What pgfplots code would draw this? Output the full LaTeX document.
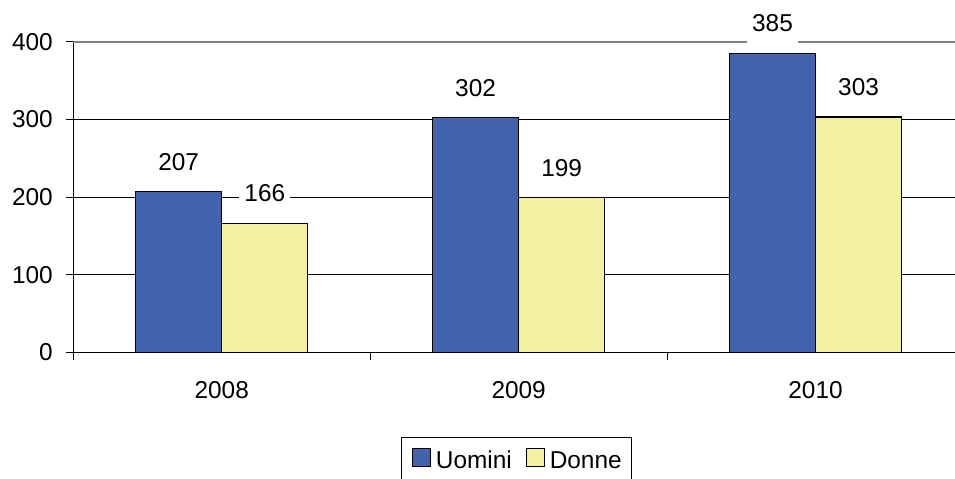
\documentclass[border=0pt]{standalone}
\usepackage{fontspec}
\setmainfont{Liberation Sans}
\usepackage{pgfplots}
\pgfplotsset{compat=1.18}
\definecolor{barblue}{RGB}{66,100,174}
\definecolor{baryellow}{RGB}{243,241,160}
\definecolor{bordergray}{RGB}{128,128,128}
\begin{document}
\begin{tikzpicture}
\begin{axis}[
  name=ax,
  scale only axis,
  width=445.35pt, height=155.4pt,
  xmin=-0.5, xmax=2.5,
  ymin=0, ymax=400,
  ytick={0,100,200,300,400},
  xtick={-0.5,0.5,1.5},
  xticklabels={},
  extra x ticks={0,1,2},
  extra x tick labels={2008,2009,2010},
  extra x tick style={major tick length=0pt, tick label style={yshift=-11pt}},
  axis lines=left,
  axis line style={-, black, line width=0.6pt},
  tick align=outside,
  major tick length=3.75pt,
  tick style={black, line width=0.6pt},
  ymajorgrids,
  grid style={black, line width=0.5pt},
  font=\fontsize{12.2}{14}\selectfont,
  tick label style={font=\fontsize{12.2}{14}\selectfont},
  yticklabel style={xshift=-3pt},
  /pgf/number format/assume math mode=true,
  ybar,
  bar width=0.29,
  nodes near coords,
  every node near coord/.append style={font=\fontsize{12.2}{14}\selectfont, fill=white, inner xsep=2.5pt, inner ysep=6pt, anchor=center, yshift=15pt, text=black},
  clip=false,
  legend columns=2,
  legend style={at={(0.4978,-0.2719)}, anchor=north, draw=black, line width=0.5pt,
    font=\fontsize{12.2}{14}\selectfont, inner xsep=5pt, inner ysep=5pt,
    nodes={inner sep=0pt},
    /tikz/every odd column/.append style={column sep=2.5pt},
    /tikz/every even column/.append style={column sep=6.85pt}},
  legend image code/.code={\draw[#1,draw=black,line width=0.6pt] (0pt,-2.3pt) rectangle (9pt,6.7pt);},
]
\draw[bordergray, line width=0.8pt] (rel axis cs:0,1) -- (rel axis cs:1,1);
\addplot[fill=barblue, draw=black, line width=0.6pt, bar shift=-0.145] coordinates {(0,207) (1,302) (2,385)};
\addplot[fill=baryellow, draw=black, line width=0.6pt, bar shift=0.145] coordinates {(0,166) (1,199) (2,303)};
\legend{Uomini,Donne}
\end{axis}
\pgfresetboundingbox
\path ([shift={(-36.65pt,-62.75pt)}]ax.south west) rectangle ++(477.5pt,239pt);
\end{tikzpicture}
\end{document}
